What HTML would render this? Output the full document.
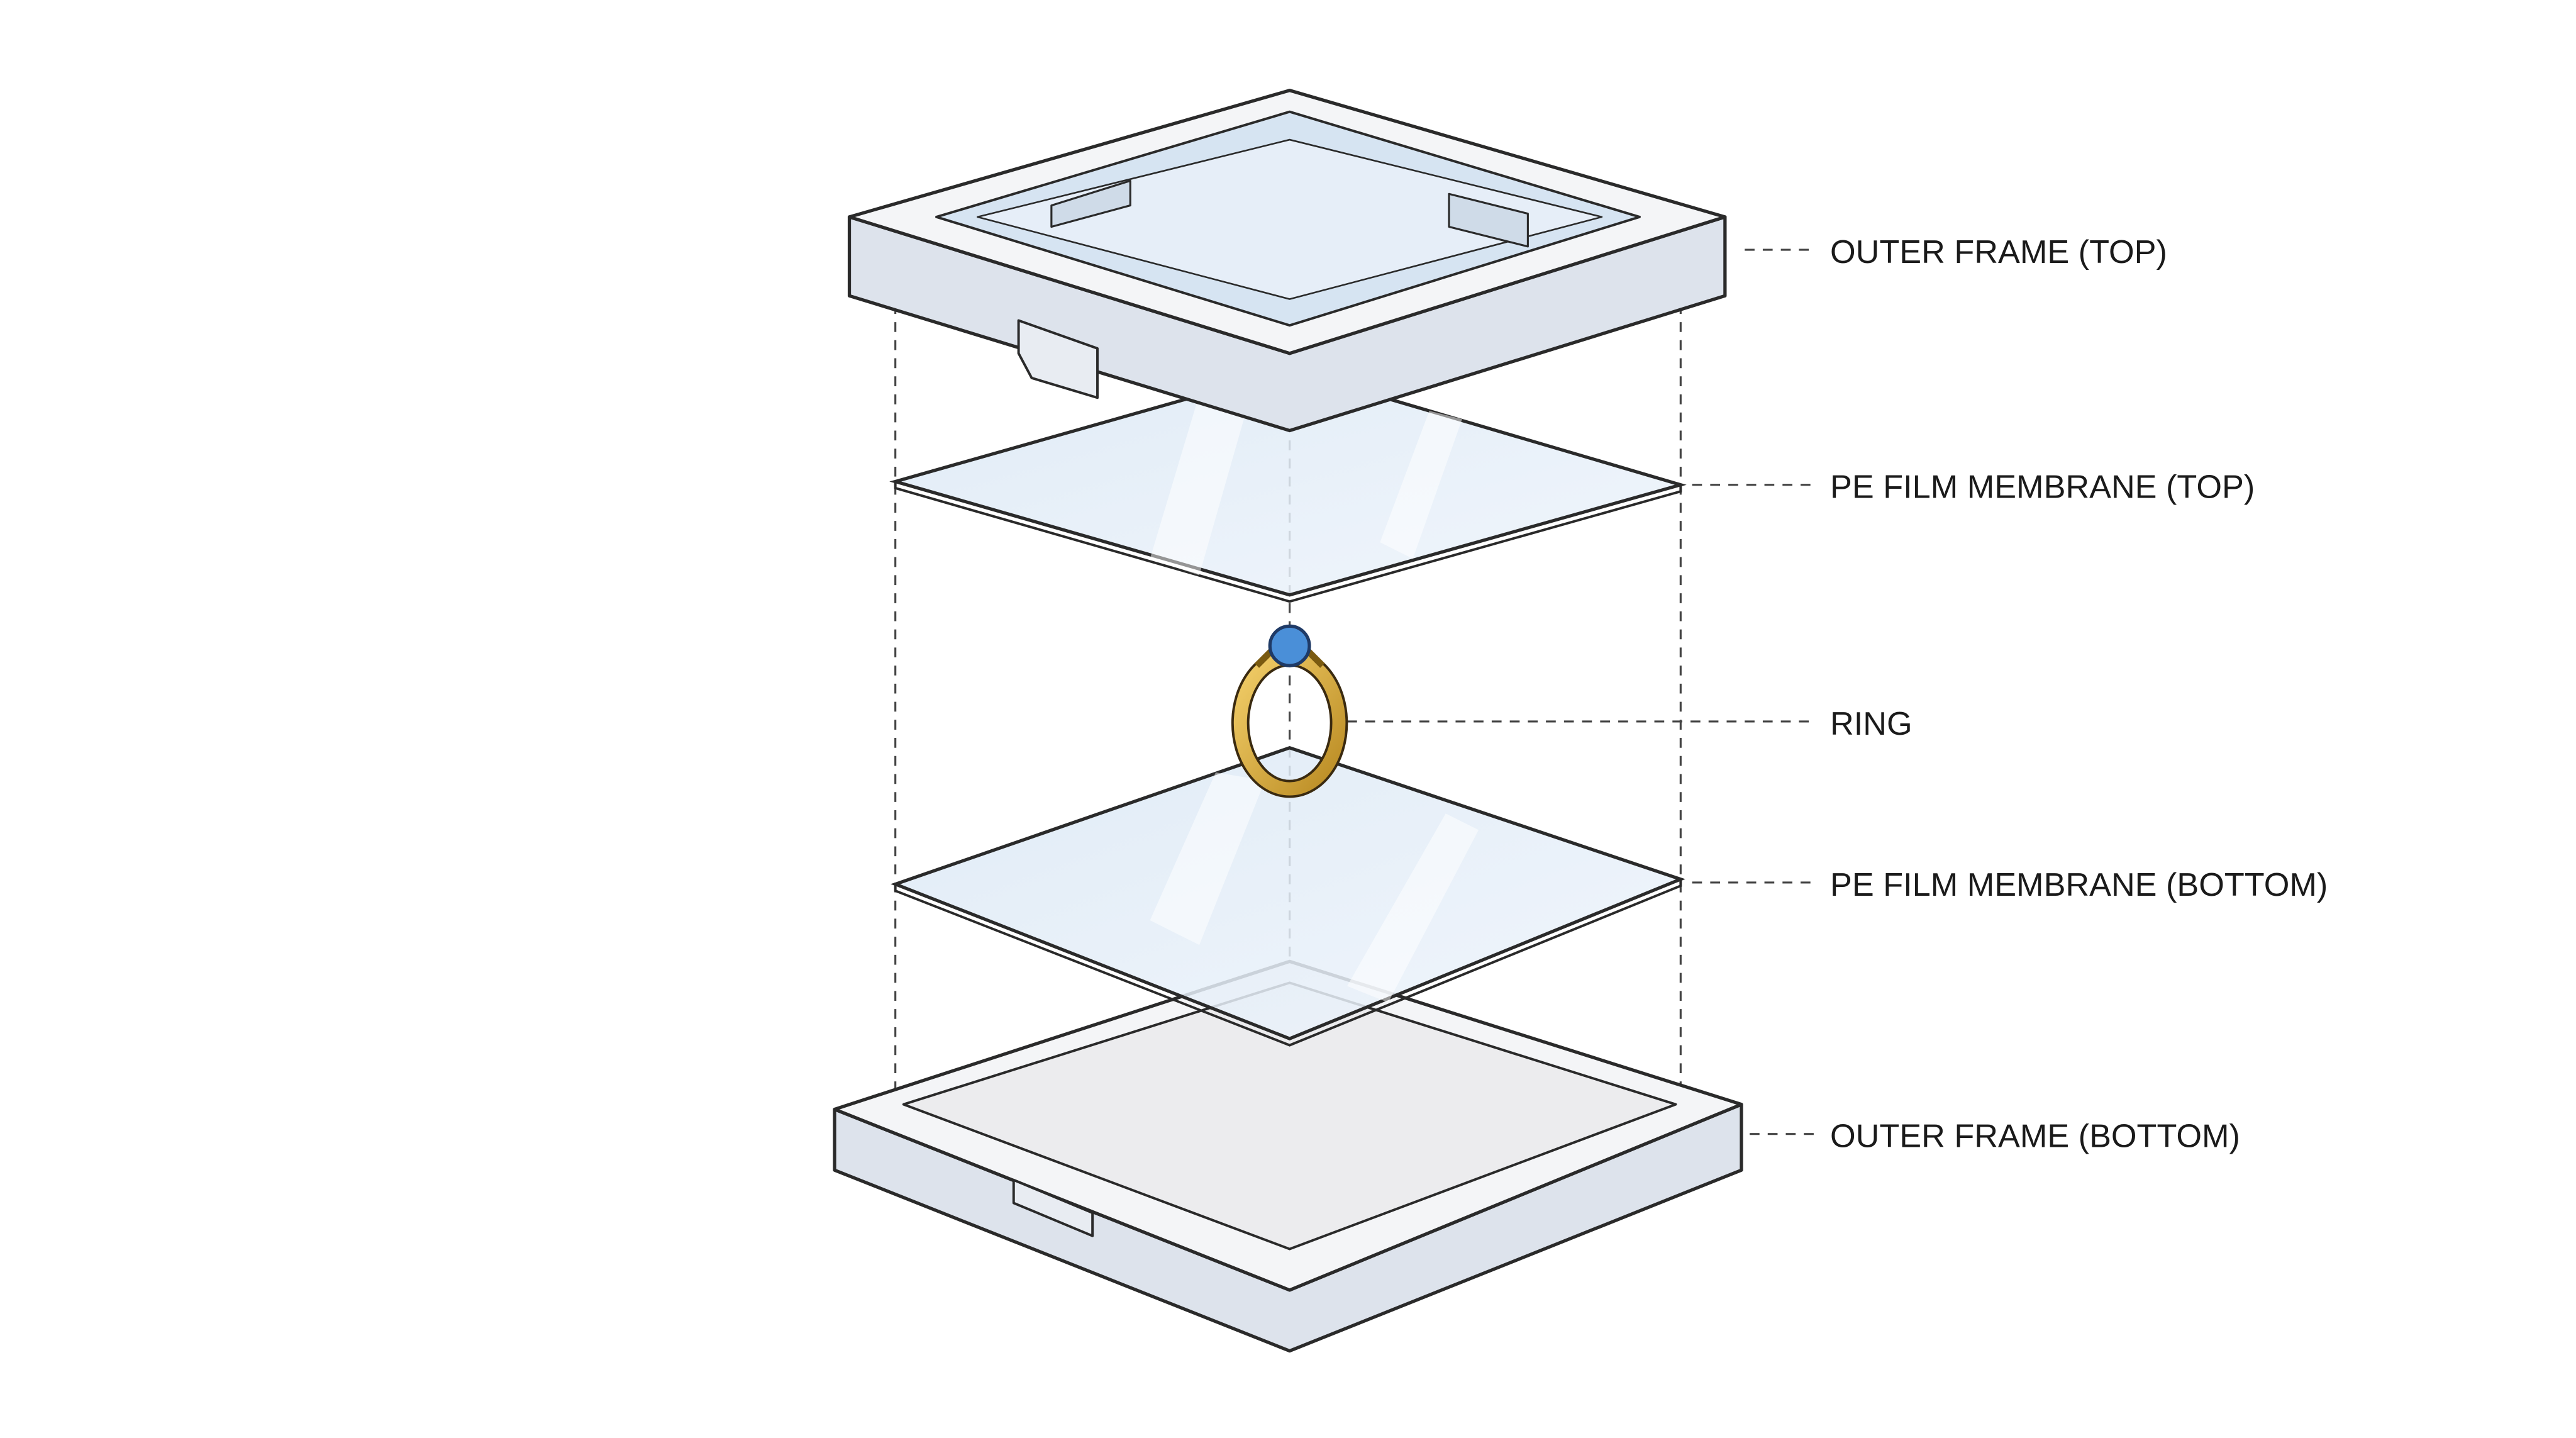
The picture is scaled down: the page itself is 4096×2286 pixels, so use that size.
<!DOCTYPE html>
<html><head><meta charset="utf-8"><style>
html,body{margin:0;padding:0;background:#fff;}
svg{display:block;}
text{font-family:"Liberation Sans",sans-serif;font-size:20px;fill:#1a1a1a;}
</style></head><body>
<svg width="4096" height="2286" viewBox="0 0 1568 875" preserveAspectRatio="none" xmlns="http://www.w3.org/2000/svg">
<defs>
<linearGradient id="glass" x1="0" y1="0" x2="1" y2="1">
<stop offset="0" stop-color="#dbe8f5"/><stop offset="1" stop-color="#eef4fb"/></linearGradient>
<linearGradient id="gold" x1="0" y1="0" x2="1" y2="1">
<stop offset="0" stop-color="#f3cf6a"/><stop offset="1" stop-color="#b98a22"/></linearGradient>
</defs>
<rect width="1568" height="875" fill="#fff"/>
<g stroke="#444" stroke-width="1.2" stroke-dasharray="6,5" fill="none">
<line x1="545" y1="185" x2="545" y2="690"/>
<line x1="1023" y1="185" x2="1023" y2="690"/>
<line x1="785" y1="70" x2="785" y2="770"/>
<line x1="1062" y1="152" x2="1105" y2="152"/>
<line x1="1030" y1="295" x2="1105" y2="295"/>
<line x1="820" y1="439" x2="1105" y2="439"/>
<line x1="1030" y1="537" x2="1105" y2="537"/>
<line x1="1065" y1="690" x2="1105" y2="690"/>
</g>
<g stroke="#2a2a2a" stroke-width="2" stroke-linejoin="round">
<path d="M508,675 L508,712 L785,822 L1060,712 L1060,672 L785,785 Z" fill="#dde3ec"/>
<path d="M508,675 L785,585 L1060,672 L785,785 Z" fill="#f4f5f7"/>
<path d="M550,672 L785,598 L1020,672 L785,760 Z" fill="#ececee" stroke-width="1.5"/>
<path d="M617,718 L665,738 L665,752 L617,732 Z" fill="#e8ecf2" stroke-width="1.5"/>
</g>
<path d="M545,538 L785,455 L1023,535 L785,632 Z" fill="url(#glass)" fill-opacity="0.85" stroke="#2a2a2a" stroke-width="2"/>
<path d="M545,538 L545,542 L785,636 L1023,539 L1023,535" fill="none" stroke="#2a2a2a" stroke-width="1.5"/>
<path d="M700,560 L740,470 L770,475 L730,575 Z M820,600 L880,495 L900,505 L845,610 Z" fill="#fff" opacity="0.5"/>
<ellipse cx="785" cy="440" rx="30" ry="40" fill="none" stroke="#3a2a10" stroke-width="11"/>
<ellipse cx="785" cy="440" rx="30" ry="40" fill="none" stroke="url(#gold)" stroke-width="8"/>
<path d="M765,405 L775,395 L795,395 L805,405" fill="none" stroke="#7a5a10" stroke-width="4"/>
<circle cx="785" cy="393" r="12" fill="#4a8fd8" stroke="#1f3a66" stroke-width="2"/>
<path d="M545,293 L785,225 L1023,295 L785,362 Z" fill="url(#glass)" fill-opacity="0.85" stroke="#2a2a2a" stroke-width="2"/>
<path d="M545,293 L545,297 L785,366 L1023,299 L1023,295" fill="none" stroke="#2a2a2a" stroke-width="1.5"/>
<path d="M700,340 L730,240 L760,245 L730,350 Z M840,330 L870,250 L890,255 L860,340 Z" fill="#fff" opacity="0.5"/>
<g stroke="#2a2a2a" stroke-width="2" stroke-linejoin="round">
<path d="M517,132 L517,180 L785,262 L1050,180 L1050,132 L785,215 Z" fill="#dde3ec"/>
<path d="M517,132 L785,55 L1050,132 L785,215 Z" fill="#f4f5f7"/>
<path d="M570,132 L785,68 L998,132 L785,198 Z" fill="#d6e4f2" stroke-width="1.5"/>
<path d="M595,132 L785,85 L975,132 L785,182 Z" fill="#e6eef8" stroke-width="1"/>
<path d="M620,195 L668,212 L668,242 L628,230 L620,215 Z" fill="#e8ecf2" stroke-width="1.5"/>
<path d="M640,125 L688,110 L688,125 L640,138 Z M882,118 L930,130 L930,150 L882,138 Z" fill="#cfdbe8" stroke-width="1.2"/>
</g>
<text x="1114" y="160">OUTER FRAME (TOP)</text>
<text x="1114" y="303">PE FILM MEMBRANE (TOP)</text>
<text x="1114" y="447">RING</text>
<text x="1114" y="545">PE FILM MEMBRANE (BOTTOM)</text>
<text x="1114" y="698">OUTER FRAME (BOTTOM)</text>
</svg>
</body></html>
